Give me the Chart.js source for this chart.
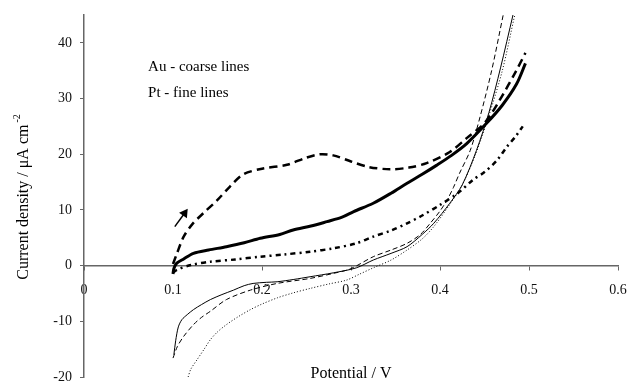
<!DOCTYPE html>
<html>
  <head>
    <title>Current density vs potential</title>
    <meta http-equiv="Content-Type" content="text/html;charset=utf-8" />
    <style>
      body { margin: 0; background: #fff; }
    </style>
    <script src="https://cdn.jsdelivr.net/npm/chart.js@4.4.0/dist/chart.umd.min.js"></script>
    <script>
      // Au - coarse lines
      var auDashX = [0.100, 0.104, 0.112, 0.122, 0.134, 0.150, 0.164, 0.179, 0.200, 0.228, 0.250, 0.265, 0.280, 0.300, 0.320, 0.344, 0.365, 0.385, 0.411, 0.430, 0.450, 0.467, 0.486, 0.496];
      var auDashY = [0.3, 2.0, 5.2, 7.5, 9.4, 11.8, 14.2, 16.4, 17.4, 18.1, 19.4, 20.0, 19.8, 18.7, 17.7, 17.3, 17.6, 18.4, 20.4, 22.9, 25.6, 29.7, 35.1, 38.2];

      var auSolidX = [0.100, 0.101, 0.104, 0.112, 0.123, 0.140, 0.160, 0.180, 0.198, 0.220, 0.235, 0.255, 0.273, 0.290, 0.303, 0.325, 0.345, 0.363, 0.380, 0.396, 0.413, 0.430, 0.452, 0.470, 0.486, 0.496];
      var auSolidY = [-1.5, -0.5, 0.4, 1.2, 2.2, 2.8, 3.4, 4.1, 4.9, 5.6, 6.4, 7.1, 7.9, 8.7, 9.7, 11.2, 13.0, 14.8, 16.4, 18.0, 19.8, 21.9, 25.5, 28.8, 32.6, 36.3];

      var auDotX = [0.100, 0.104, 0.120, 0.142, 0.170, 0.198, 0.225, 0.254, 0.280, 0.306, 0.325, 0.345, 0.363, 0.380, 0.400, 0.420, 0.437, 0.450, 0.464, 0.475, 0.485, 0.493];
      var auDotY = [-1.3, -0.8, 0.1, 0.7, 1.1, 1.6, 2.0, 2.5, 3.1, 4.0, 5.2, 6.3, 7.6, 9.0, 10.9, 13.0, 15.4, 16.8, 18.9, 21.3, 23.2, 25.0];

      // Pt - fine lines
      var ptSolidX = [0.101, 0.103, 0.106, 0.110, 0.116, 0.123, 0.132, 0.142, 0.155, 0.168, 0.180, 0.190, 0.205, 0.217, 0.235, 0.254, 0.280, 0.306, 0.325, 0.345, 0.363, 0.380, 0.393, 0.411, 0.425, 0.441, 0.455, 0.468, 0.482];
      var ptSolidY = [-16.0, -13.5, -11.0, -9.7, -8.8, -7.9, -7.0, -6.1, -5.2, -4.4, -3.6, -3.2, -3.0, -2.9, -2.5, -2.0, -1.3, -0.4, 1.0, 2.2, 3.4, 5.6, 7.6, 11.2, 14.5, 20.7, 27.5, 35.5, 45];

      var ptDashX = [0.100, 0.105, 0.112, 0.123, 0.132, 0.142, 0.160, 0.187, 0.217, 0.254, 0.280, 0.299, 0.325, 0.345, 0.363, 0.378, 0.389, 0.400, 0.408, 0.415, 0.422, 0.434, 0.445, 0.458, 0.471];
      var ptDashY = [-16.6, -14.5, -12.7, -10.6, -9.3, -8.2, -6.1, -4.4, -3.2, -2.3, -1.4, -0.6, 1.6, 2.8, 4.0, 5.6, 7.6, 9.8, 11.8, 14.0, 16.6, 20.7, 26.7, 35.0, 45];

      var ptDotX = [0.117, 0.120, 0.127, 0.135, 0.142, 0.150, 0.160, 0.173, 0.187, 0.200, 0.217, 0.235, 0.254, 0.275, 0.295, 0.310, 0.325, 0.345, 0.363, 0.380, 0.393, 0.411, 0.425, 0.440, 0.455, 0.470, 0.484];
      var ptDotY = [-20.0, -18.6, -16.9, -15.0, -13.3, -11.9, -10.6, -9.2, -7.9, -6.9, -5.8, -4.9, -4.1, -3.3, -2.6, -1.5, -0.4, 1.0, 2.8, 4.8, 7.0, 11.0, 14.5, 20.0, 27.0, 35.0, 45];

      // sweep direction arrow
      var arrowX = [0.102, 0.113];
      var arrowY = [7.0, 9.4];

      var xTicks = [0, 0.1, 0.2, 0.3, 0.4, 0.5, 0.6];
      var yTicks = [-20, -10, 0, 10, 20, 30, 40];
      var yMax = 45;

      var notes = ["Au - coarse lines", "Pt - fine lines"];
      var noteX = 0.072;
      var noteY = [35.6, 31.0];

      var xTitle = "Potential / V";
      var yTitle = "Current density / \u03bcA cm";
      var yTitleSup = "-2";

      function pts(xs, ys) {
        return xs.map(function (x, i) { return { x: x, y: ys[i] }; });
      }
    </script>
  </head>
  <body>
    <canvas id="chart" width="630" height="383"></canvas>
    <script>
      var serif = "'Liberation Serif', 'Times New Roman', serif";

      function curve(xs, ys, width, dash) {
        return {
          data: pts(xs, ys),
          borderColor: "#000",
          borderWidth: width,
          borderDash: dash,
          pointRadius: 0,
          showLine: true,
          tension: 0.3,
          fill: false,
        };
      }

      function noPad(scale) {
        scale.paddingLeft = 0;
        scale.paddingRight = 0;
        scale.paddingTop = 0;
        scale.paddingBottom = 0;
      }

      var textPlugin = {
        id: "texts",
        afterDraw: function (chart) {
          var ctx = chart.ctx;
          var xs = chart.scales.x, ys = chart.scales.y, area = chart.chartArea;
          ctx.save();
          ctx.fillStyle = "#000";
          ctx.font = "15px " + serif;
          ctx.textBaseline = "middle";
          ctx.textAlign = "left";
          for (var i = 0; i < notes.length; i++) {
            ctx.fillText(notes[i], xs.getPixelForValue(noteX), ys.getPixelForValue(noteY[i]));
          }

          ctx.font = "16px " + serif;
          ctx.textAlign = "center";
          ctx.fillText(xTitle, (area.left + area.right) / 2, area.bottom - 3);

          // rotated y title with superscript
          ctx.translate(24, (area.top + area.bottom) / 2 + 1);
          ctx.rotate(-Math.PI / 2);
          ctx.textAlign = "left";
          var w1 = ctx.measureText(yTitle).width;
          ctx.font = "10px " + serif;
          var w2 = ctx.measureText(yTitleSup).width;
          var start = -(w1 + w2 + 2) / 2;
          ctx.font = "16px " + serif;
          ctx.fillText(yTitle, start, 0);
          ctx.font = "10px " + serif;
          ctx.fillText(yTitleSup, start + w1 + 2, -7);
          ctx.restore();
        },
      };

      var arrow = {
        data: pts(arrowX, arrowY),
        borderColor: "#000",
        backgroundColor: "#000",
        borderWidth: 1.5,
        showLine: true,
        pointStyle: "triangle",
        pointRadius: [0, 4],
        pointRotation: 35,
      };

      new Chart(document.getElementById("chart"), {
        type: "scatter",
        data: {
          datasets: [
            curve(auDashX, auDashY, 2.5, [8, 5]),
            curve(auSolidX, auSolidY, 3, []),
            curve(auDotX, auDotY, 2.5, [5, 4, 2, 4]),
            curve(ptSolidX, ptSolidY, 1, []),
            curve(ptDashX, ptDashY, 1, [5, 3]),
            curve(ptDotX, ptDotY, 1, [1, 2]),
            arrow,
          ],
        },
        options: {
          responsive: false,
          animation: false,
          layout: { padding: { top: 15, right: 12, bottom: 6, left: 0 } },
          plugins: {
            legend: { display: false },
            tooltip: { enabled: false },
          },
          scales: {
            x: {
              type: "linear",
              position: { y: 0 },
              min: 0,
              max: 0.6,
              afterBuildTicks: function (scale) {
                scale.ticks = xTicks.map(function (v) { return { value: v }; });
              },
              afterFit: noPad,
              ticks: {
                color: "#111",
                font: { family: serif, size: 14 },
                padding: 12,
                maxRotation: 0,
                callback: function (v) { return String(Math.round(v * 10) / 10); },
              },
              grid: { drawOnChartArea: false, tickLength: 4, tickColor: "#666" },
              border: { color: "#666", width: 1.5 },
            },
            y: {
              type: "linear",
              min: yTicks[0],
              max: yMax,
              afterBuildTicks: function (scale) {
                scale.ticks = yTicks.map(function (v) { return { value: v }; });
              },
              afterFit: function (scale) {
                scale.width = 84;
                noPad(scale);
              },
              ticks: {
                color: "#111",
                font: { family: serif, size: 14 },
                padding: 8,
              },
              grid: { drawOnChartArea: false, tickLength: 4, tickColor: "#666" },
              border: { color: "#666", width: 1.5 },
            },
          },
        },
        plugins: [textPlugin],
      });
    </script>
  </body>
</html>
